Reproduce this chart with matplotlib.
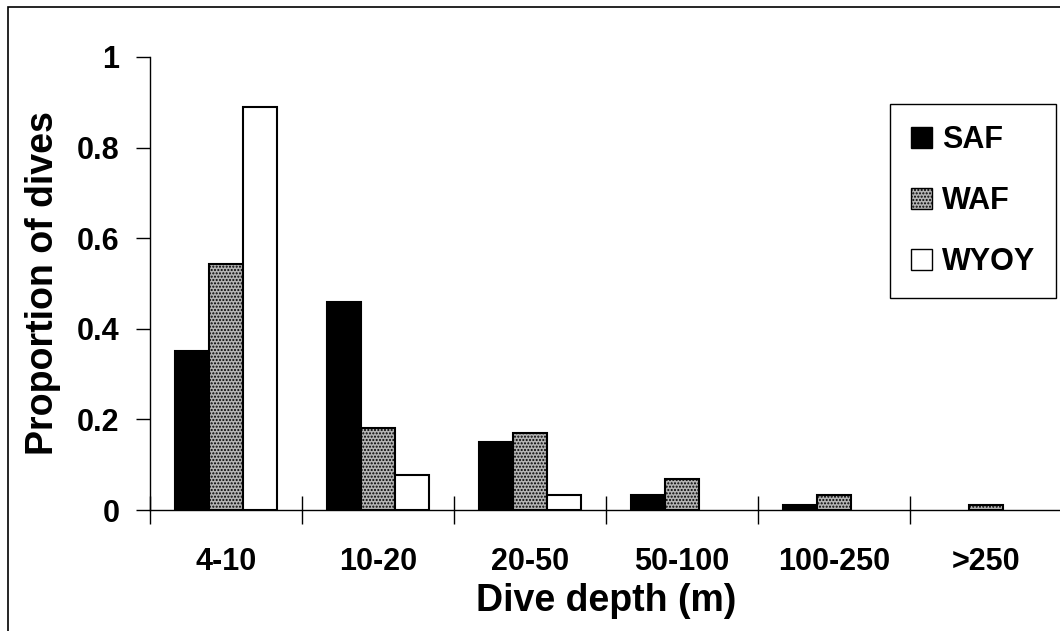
import numpy as np
import matplotlib
matplotlib.use('Agg')
import matplotlib.pyplot as plt
from matplotlib.patches import Rectangle, Patch

plt.rcParams['font.family'] = ['Liberation Sans', 'DejaVu Sans']
plt.rcParams['font.weight'] = 'bold'
plt.rcParams['hatch.color'] = '#404040'
plt.rcParams['hatch.linewidth'] = 1.0

categorie = ['4-10', '10-20', '20-50', '50-100', '100-250', '>250']
saf = [0.35, 0.46, 0.15, 0.033, 0.011, 0.0]
waf = [0.543, 0.18, 0.17, 0.068, 0.033, 0.01]
wyoy = [0.89, 0.078, 0.033, 0.0, 0.0, 0.0]

fig = plt.figure(figsize=(10.6, 6.31), dpi=100)
# cornice esterna (lati destro e basso fuori immagine)
fig.patches.append(Rectangle((8/1060, -0.05), 1.1, 1 - 7/631 + 0.05, transform=fig.transFigure,
                             fill=False, edgecolor='black', linewidth=1.2))

ax = fig.add_axes([150/1060, 1 - 510/631, 912/1060, 453/631])

x = np.arange(len(categorie))
w = 0.224

def barre(pos, valori, **kw):
    valori = np.array(valori)
    m = valori > 0  # le barre a zero non si vedono
    ax.bar(pos[m], valori[m], w, edgecolor='black', linewidth=1.5, **kw)

barre(x - w, saf, color='black')
barre(x, waf, color='#b4b4b4', hatch='.....')
barre(x + w, wyoy, color='white')

ax.set_xlim(-0.5, len(categorie) - 0.5)
ax.set_ylim(0, 1)
ax.set_yticks([0, 0.2, 0.4, 0.6, 0.8, 1.0])
ax.set_yticklabels(['0', '0.2', '0.4', '0.6', '0.8', '1'])
ax.set_xticks(np.arange(len(categorie) + 1) - 0.5)
ax.set_xticklabels([])
ax.set_xticks(x, minor=True)
ax.set_xticklabels(categorie, minor=True)
ax.tick_params(axis='x', which='major', direction='inout', length=20, width=1)
ax.tick_params(axis='x', which='minor', length=0, pad=27, labelsize=22)
ax.tick_params(axis='y', direction='out', length=10, width=1, labelsize=22, pad=12)

for s in ['top', 'right']:
    ax.spines[s].set_visible(False)
ax.spines['left'].set_linewidth(1)
ax.spines['bottom'].set_linewidth(1)

ax.set_xlabel('Dive depth (m)', fontsize=27, fontweight='bold', labelpad=4)
ax.set_ylabel('Proportion of dives', fontsize=27, fontweight='bold', labelpad=11)

handles = [Patch(facecolor='black', edgecolor='black'),
           Patch(facecolor='#b4b4b4', edgecolor='black', hatch='.....'),
           Patch(facecolor='white', edgecolor='black')]
leg = ax.legend(handles, ['SAF', 'WAF', 'WYOY'], loc='upper left',
                bbox_to_anchor=(0.8114, 0.896), fancybox=False, edgecolor='black',
                fontsize=22, labelspacing=1.02, handlelength=0.68, handleheight=0.68,
                handletextpad=0.35, borderpad=0.68, borderaxespad=0, framealpha=1)
leg.get_frame().set_linewidth(1)

plt.savefig('out.png', dpi=100)
